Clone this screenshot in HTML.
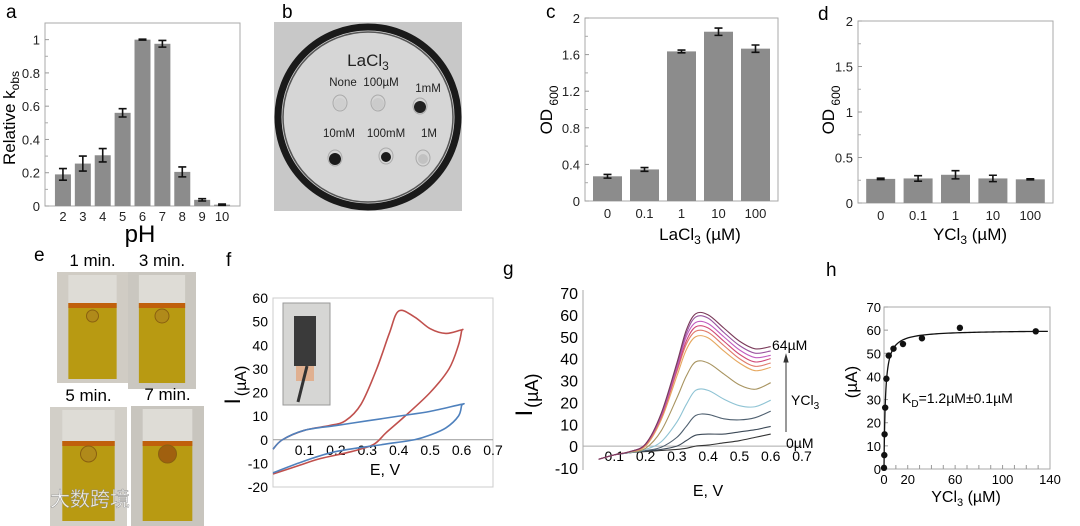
<!DOCTYPE html>
<html><head><meta charset="utf-8"><style>
html,body{margin:0;padding:0;background:#fff;}
svg{display:block;font-family:"Liberation Sans","Noto Sans CJK SC",sans-serif;}
</style></head><body>
<svg id="fig" width="1080" height="526" viewBox="0 0 1080 526" xmlns="http://www.w3.org/2000/svg">
<g id="pa"></g>
<g id="pb"></g>
<g id="pc"></g>
<g id="pd"></g>
<g id="pe"></g>
<g id="pf"></g>
<g id="pg"></g>
<g id="ph"></g>
</svg>
<script>
// ---- data ----
const phCats = ["2","3","4","5","6","7","8","9","10"];
const phVals = [0.19,0.255,0.305,0.56,1.0,0.975,0.205,0.037,0.008];
const phErr = [0.035,0.045,0.04,0.025,0.003,0.02,0.03,0.007,0.004];
const aTicks = [0,0.2,0.4,0.6,0.8,1];
const laCats = ["0","0.1","1","10","100"];
const laVals = [0.27,0.345,1.635,1.85,1.665];
const laErr = [0.02,0.02,0.015,0.04,0.04];
const cTicks = [0,0.4,0.8,1.2,1.6,2];
const yCats = ["0","0.1","1","10","100"];
const yVals = [0.265,0.27,0.31,0.27,0.26];
const yErr = [0.008,0.03,0.045,0.035,0.006];
const dTicks = [0,0.5,1,1.5,2];
const cvRedE = [0.0,0.03,0.1,0.18,0.23,0.28,0.33,0.37,0.4,0.45,0.5,0.55,0.6,0.6,0.59,0.56,0.5,0.42,0.36,0.32,0.25,0.15,0.08,0.0];
const cvRedI = [-4,0,4,6,8,15,30,45,54.5,52,47,45,46.5,46,40,30,20,10,3,-2,-5,-8,-11,-14.5];
const cvBlueE = [0.0,0.03,0.1,0.2,0.3,0.4,0.5,0.6,0.6,0.59,0.55,0.5,0.45,0.35,0.2,0.1,0.0];
const cvBlueI = [-4,0,4,6,8,10,12,15,14.5,10,5,2,0,-2,-5,-9,-14];
const fTicksY = [60,50,40,30,20,10,0,-10,-20];
const fTicksX = [0.1,0.2,0.3,0.4,0.5,0.6,0.7];
const dpvE = [0.05,0.1,0.15,0.2,0.25,0.3,0.33,0.36,0.4,0.45,0.5,0.55,0.6];
const dpv1 = [-6,-4,-2.5,1,15,38,53,60.5,60,54,48,44.5,45.5];
const dpv2 = [-6,-4,-2.5,1,14.5,37,51.5,59,58.5,52,46,42.5,43.5];
const dpv3 = [-6,-4,-2.5,1,14,36,50,56.5,56,50,44,40.5,41.5];
const dpv4 = [-6,-4,-2.5,0.8,13.5,35,48,54.5,54,48,42,38.5,40];
const dpv5 = [-6,-4,-2.5,0.5,13,34,46.5,52.5,52,46,40,36.5,38];
const dpv6 = [-6,-4,-2.5,0,12,32,44,50,49.5,43.5,38,34.5,36];
const dpv7 = [-6,-4,-2.8,-1,7,22,32,38.5,38,33,28,26,29];
const dpv8 = [-6,-4,-3,-1.5,2,11,19,25.5,25.5,21.5,18.5,18,21];
const dpv9 = [-6,-4,-3,-2,-0.5,4,9,14,14.5,12.5,12,13,16];
const dpv10 = [-6,-4,-3,-2.2,-1.5,0,2.5,5,5.5,5.5,6.5,7.5,9];
const dpv11 = [-6,-4,-3,-2.5,-2,-1.5,-1,0,0.5,1.5,2.5,4,5.5];
const gTicksY = [70,60,50,40,30,20,10,0,-10];
const gTicksX = [0.1,0.2,0.3,0.4,0.5,0.6,0.7];
const hConc = [0,0.25,0.5,1,2,4,8,16,32,64,128];
const hCur = [0.5,6,15,26.5,39,49,52,54,56.5,61,59.5];
const hFitBmax = [60];
const hFitKd = [1.2];
const hTicksY = [0,10,20,30,40,50,60,70];
const hTicksX = [0,20,60,100,140];

const NS="http://www.w3.org/2000/svg";
function mk(parent,tag,attrs,text){const e=document.createElementNS(NS,tag);for(const k in attrs)e.setAttribute(k,attrs[k]);if(text!==undefined)e.textContent=text;parent.appendChild(e);return e;}
function lin(d0,d1,r0,r1){return v=>r0+(v-d0)*(r1-r0)/(d1-d0);}
function spline(pts){let d=`M${pts[0][0]},${pts[0][1]}`;for(let i=0;i<pts.length-1;i++){const p0=pts[i-1]||pts[i],p1=pts[i],p2=pts[i+1],p3=pts[i+2]||p2;const c1x=p1[0]+(p2[0]-p0[0])/6,c1y=p1[1]+(p2[1]-p0[1])/6,c2x=p2[0]-(p3[0]-p1[0])/6,c2y=p2[1]-(p3[1]-p1[1])/6;d+=` C${c1x},${c1y} ${c2x},${c2y} ${p2[0]},${p2[1]}`;}return d;}
let t;

function barPanel(g,cfg){
  const x0=cfg.x0,x1=cfg.x1,yT=cfg.yT,yB=cfg.yB;
  const y=lin(0,cfg.ymax,yB,yT);
  const box=mk(g,'rect',{x:x0,y:yT,width:x1-x0,height:yB-yT,fill:'none',stroke:'#aaa','stroke-width':1});
  
  cfg.ticks.forEach(v=>{
    const tl=mk(g,'line',{x1:x0,x2:x0+4,y1:y(v),y2:y(v),stroke:'#999'});
    
    const tx=mk(g,'text',{x:x0-5,y:y(v)+5,'text-anchor':'end','font-size':cfg.fs,fill:'#222'},String(v));
    
  });
  if(cfg.minor)cfg.minor.forEach(v=>{const l=mk(g,'line',{x1:x0,x2:x0+3,y1:y(v),y2:y(v),stroke:'#aaa'});});
  const n=cfg.cats.length,step=(x1-x0-cfg.pad*2)/n;
  cfg.cats.forEach((c,i)=>{
    const cx=x0+cfg.pad+step*(i+0.5);
    const r=mk(g,'rect',{x:cx-cfg.bw/2,y:y(cfg.vals[i]),width:cfg.bw,height:yB-y(cfg.vals[i]),fill:'#8c8c8c'});
    
    const e1=y(cfg.vals[i]+cfg.err[i]),e2=y(cfg.vals[i]-cfg.err[i]);
    const eb=mk(g,'path',{d:`M${cx-4},${e1}H${cx+4}M${cx},${e1}V${e2}M${cx-4},${e2}H${cx+4}`,stroke:'#111','stroke-width':1.6,fill:'none'});
    
    const xl=mk(g,'text',{x:cx,y:yB+cfg.xly,'text-anchor':'middle','font-size':cfg.fs,fill:'#222'},c);
    
  });
}

// Panel a
(function(){const g=document.getElementById('pa');
 t=mk(g,'text',{x:6,y:18,'font-size':19},'a');
 barPanel(g,{x0:45,x1:240,yT:23,yB:206,ymax:1.1,ticks:aTicks,minor:[0.1,0.3,0.5,0.7,0.9],cats:phCats,vals:phVals,err:phErr,pad:8,bw:16,fs:13,xly:15});
 t=mk(g,'text',{x:140,y:242,'text-anchor':'middle','font-size':24},'pH');
 t=mk(g,'text',{transform:'translate(15,118) rotate(-90)','text-anchor':'middle','font-size':17});
 t.innerHTML='Relative k<tspan font-size="12" dy="4">obs</tspan>';
})();

// Panel b
(function(){const g=document.getElementById('pb');
 t=mk(g,'text',{x:282,y:18,'font-size':19},'b');
 const defs=mk(g,'defs',{});const rg=mk(defs,'radialGradient',{id:'plateBg'});mk(rg,'stop',{offset:'0.6','stop-color':'#f2f2f2'});mk(rg,'stop',{offset:'1','stop-color':'#c8c8c8'});
 t=mk(g,'rect',{x:274,y:22,width:188,height:189,fill:'url(#plateBg)'});
 t=mk(g,'circle',{cx:368,cy:117,r:90,fill:'#d6d6d6',stroke:'#1a1a1a','stroke-width':7});
 mk(g,'circle',{cx:368,cy:117,r:85,fill:'none',stroke:'#555','stroke-width':1.5});
 t=mk(g,'text',{x:368,y:66,'text-anchor':'middle','font-size':17,fill:'#222'});t.innerHTML='LaCl<tspan font-size="12" dy="4">3</tspan>';
 [['None',343,86],['100µM',381,86],['1mM',428,92],['10mM',339,137],['100mM',386,137],['1M',429,137]].forEach(a=>{t=mk(g,'text',{x:a[1],y:a[2],'text-anchor':'middle','font-size':11.5,fill:'#222'},a[0]);});
 [[340,103,'#cfcfcf',6],[378,103,'#cbcbcb',6],[420,106,'#222',6],[335,158,'#1a1a1a',6],[386,156,'#1a1a1a',5],[423,158,'#c2c2c2',5]].forEach(s=>{
  mk(g,'ellipse',{cx:s[0],cy:s[1],rx:7,ry:8,fill:'none',stroke:'#aaa','stroke-width':1});
  t=mk(g,'circle',{cx:s[0],cy:s[1]+1,r:s[3],fill:s[2]});});
})();

// Panel c
(function(){const g=document.getElementById('pc');
 t=mk(g,'text',{x:546,y:18,'font-size':19},'c');
 barPanel(g,{x0:585,x1:778,yT:18,yB:201,ymax:2,ticks:cTicks,minor:[0.2,0.6,1.0,1.4,1.8],cats:laCats,vals:laVals,err:laErr,pad:4,bw:29,fs:13,xly:17});
 t=mk(g,'text',{x:700,y:240,'text-anchor':'middle','font-size':17});t.innerHTML='LaCl<tspan font-size="12" dy="4">3</tspan><tspan dy="-4">  (µM)</tspan>';
 t=mk(g,'text',{transform:'translate(552,110) rotate(-90)','text-anchor':'middle','font-size':17});t.innerHTML='OD<tspan font-size="12" dy="6"> 600</tspan>';
})();

// Panel d
(function(){const g=document.getElementById('pd');
 t=mk(g,'text',{x:818,y:20,'font-size':19},'d');
 barPanel(g,{x0:858,x1:1053,yT:21,yB:203,ymax:2,ticks:dTicks,minor:[0.25,0.75,1.25,1.75],cats:yCats,vals:yVals,err:yErr,pad:4,bw:29,fs:13,xly:17});
 t=mk(g,'text',{x:970,y:240,'text-anchor':'middle','font-size':17});t.innerHTML='YCl<tspan font-size="12" dy="4">3</tspan><tspan dy="-4">  (µM)</tspan>';
 t=mk(g,'text',{transform:'translate(834,110) rotate(-90)','text-anchor':'middle','font-size':17});t.innerHTML='OD<tspan font-size="12" dy="6"> 600</tspan>';
})();

// Panel e
(function(){const g=document.getElementById('pe');
 t=mk(g,'text',{x:34,y:261,'font-size':19},'e');
 const vials=[[57,272,71,111,'1 min.',303,'#d0ccc4'],[128,272,68,117,'3 min.',303,'#cac7c0'],[50,407,77,119,'5 min.',441,'#d2cfc8'],[131,406,73,120,'7 min.',441,'#c8c5be']];
 vials.forEach((v,i)=>{const [x,y,w,h,lab,ly,bg]=v;
  t=mk(g,'rect',{x:x,y:y,width:w,height:h,fill:bg});
  const lx=x+w*0.16,lw=w*0.68;
  mk(g,'rect',{x:lx,y:y+3,width:lw,height:ly-y-3,fill:'#dedcd6'});
  t=mk(g,'rect',{x:lx,y:ly,width:lw,height:Math.min(h-(ly-y)-4,80),fill:'#b89a12'});
  mk(g,'rect',{x:lx,y:ly,width:lw,height:5,fill:'#c0600c'});
  mk(g,'circle',{cx:lx+lw/2,cy:ly+13,r:6+i,fill:i==3?'#a0600f':'#b08a1a',stroke:'#8a6010','stroke-width':1});
  t=mk(g,'text',{x:x+w/2,y:y-6,'text-anchor':'middle','font-size':17},lab);
 });
 t=mk(g,'text',{x:50,y:506,'font-size':20,fill:'#fff','fill-opacity':0.85,stroke:'#888','stroke-width':0.4},'大数跨境');
 mk(g,'circle',{cx:20,cy:500,r:9,fill:'none',stroke:'#fff','stroke-width':3,opacity:0.85});
})();

// Panel f
(function(){const g=document.getElementById('pf');
 t=mk(g,'text',{x:226,y:266,'font-size':19},'f');
 const x=lin(0,0.7,273,493),y=lin(-20,60,487,298);
 t=mk(g,'rect',{x:273,y:298,width:220,height:189,fill:'none',stroke:'#ccc'});
 t=mk(g,'line',{x1:273,x2:493,y1:y(0),y2:y(0),stroke:'#999'});
 fTicksY.forEach(v=>{t=mk(g,'text',{x:268,y:y(v)+5,'text-anchor':'end','font-size':14},String(v));});
 fTicksX.forEach(v=>{t=mk(g,'text',{x:x(v),y:y(0)+15,'text-anchor':'middle','font-size':14},String(v));});
 t=mk(g,'text',{x:385,y:475,'text-anchor':'middle','font-size':16},'E, V');
 t=mk(g,'text',{transform:'translate(240,385) rotate(-90)','text-anchor':'middle','font-size':22});t.innerHTML='I<tspan dx="2" dy="6" font-size="16">(µA)</tspan>';
 t=mk(g,'rect',{x:283,y:303,width:47,height:102,fill:'#d6d6d4',stroke:'#999'});
 mk(g,'rect',{x:294,y:316,width:22,height:50,fill:'#3a3a3a'});
 mk(g,'rect',{x:296,y:366,width:18,height:15,fill:'#e0b090'});
 mk(g,'line',{x1:307,x2:298,y1:366,y2:402,stroke:'#333','stroke-width':3});
 const red=mk(g,'path',{d:spline(cvRedE.map((e,i)=>[x(e),y(cvRedI[i])])),fill:'none',stroke:'#c0504d','stroke-width':1.6});
 
 const blue=mk(g,'path',{d:spline(cvBlueE.map((e,i)=>[x(e),y(cvBlueI[i])])),fill:'none',stroke:'#4f81bd','stroke-width':1.6});
 
})();

// Panel g
(function(){const g=document.getElementById('pg');
 t=mk(g,'text',{x:503,y:275,'font-size':19},'g');
 const x=lin(0,0.7,583,802),y=lin(-10,70,468,293);
 t=mk(g,'line',{x1:583,x2:583,y1:290,y2:470,stroke:'#aaa'});
 t=mk(g,'line',{x1:583,x2:802,y1:y(0),y2:y(0),stroke:'#aaa'});
 gTicksY.forEach(v=>{t=mk(g,'text',{x:578,y:y(v)+6,'text-anchor':'end','font-size':16},String(v));});
 gTicksX.forEach(v=>{t=mk(g,'text',{x:x(v),y:y(0)+15,'text-anchor':'middle','font-size':14},String(v));});
 t=mk(g,'text',{x:708,y:496,'text-anchor':'middle','font-size':16},'E, V');
 t=mk(g,'text',{transform:'translate(532,395) rotate(-90)','text-anchor':'middle','font-size':24});t.innerHTML='I<tspan dx="2" dy="6" font-size="18">(µA)</tspan>';
 const series=[dpv11,dpv10,dpv9,dpv8,dpv7,dpv6,dpv5,dpv4,dpv3,dpv2,dpv1];
 const cols=['#333','#3d4a58','#4f6070','#8ec3d4','#a89460','#e6a860','#e07a6a','#d04a78','#c25ec0','#9a55a0','#7a3a5a'];
 series.forEach((s,k)=>{const p=mk(g,'path',{d:spline(dpvE.map((e,i)=>[x(e),y(s[i])])),fill:'none',stroke:cols[k],'stroke-width':1.1});
  });
 t=mk(g,'text',{x:772,y:350,'font-size':14},'64µM');
 t=mk(g,'text',{x:786,y:448,'font-size':14},'0µM');
 t=mk(g,'path',{d:'M786,432V360M784,362L786,355L788,362Z',stroke:'#333',fill:'#333','stroke-width':1});
 t=mk(g,'text',{x:791,y:405,'font-size':14});t.innerHTML='YCl<tspan font-size="10" dy="4">3</tspan>';
})();

// Panel h
(function(){const g=document.getElementById('ph');
 t=mk(g,'text',{x:826,y:276,'font-size':19},'h');
 const x=lin(0,140,884,1050),y=lin(0,70,469,307);
 t=mk(g,'rect',{x:884,y:307,width:166,height:162,fill:'none',stroke:'#aaa'});
 hTicksY.forEach(v=>{t=mk(g,'text',{x:881,y:y(v)+5,'text-anchor':'end','font-size':13},String(v));
  mk(g,'line',{x1:884,x2:888,y1:y(v),y2:y(v),stroke:'#999'});});
 hTicksX.forEach(v=>{t=mk(g,'text',{x:x(v),y:484,'text-anchor':'middle','font-size':13},String(v));});
 for(let v=10;v<140;v+=10){mk(g,'line',{x1:x(v),x2:x(v),y1:469,y2:465,stroke:'#999'});}
 t=mk(g,'text',{x:966,y:502,'text-anchor':'middle','font-size':16});t.innerHTML='YCl<tspan font-size="11" dy="4">3</tspan><tspan dy="-4">  (µM)</tspan>';
 t=mk(g,'text',{transform:'translate(857,382) rotate(-90)','text-anchor':'middle','font-size':17},'(µA)');
 const fit=[];for(let c=0;c<=140;c+=c<10?0.2:2){fit.push([x(c),y(hFitBmax[0]*c/(hFitKd[0]+c))]);}
 t=mk(g,'path',{d:'M'+fit.map(p=>p.join(',')).join('L'),fill:'none',stroke:'#111','stroke-width':1.3});
 hConc.forEach((c,i)=>{const p=mk(g,'circle',{cx:x(c),cy:y(hCur[i]),r:3.2,fill:'#111'});});
 t=mk(g,'text',{x:902,y:403,'font-size':14});t.innerHTML='K<tspan font-size="10" dy="4">D</tspan><tspan dy="-4">=1.2µM±0.1µM</tspan>';
})();
</script>
</body></html>
